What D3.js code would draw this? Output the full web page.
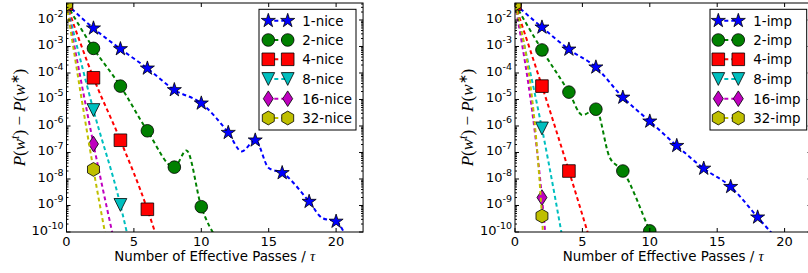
<!DOCTYPE html>
<html><head><meta charset="utf-8">
<script src="https://cdn.jsdelivr.net/npm/d3@7"></script>
<style>body{margin:0;background:#fff}svg{display:block}</style>
</head><body>
<svg id="c" width="808" height="273"></svg>
<script>
// ---------------- data ----------------
const xTicks = [0, 5, 10, 15, 20];
const yTickExps = [-10, -9, -8, -7, -6, -5, -4, -3, -2];
const seriesNames = ["1", "2", "4", "8", "16", "32"];
const seriesColors = ["#0000ff", "#008000", "#ff0000", "#00bfbf", "#bf00bf", "#bfbf00"];
const seriesMarkers = ["star", "circle", "square", "tri", "diamond", "hex"];

// nice (left panel): line points; markers are at even integer passes
const nice1X = [0, 2, 4, 6, 8, 10, 12, 13, 14, 15, 16, 18, 19, 20, 21];
const nice1Y = [0.04, 4.9e-3, 8.1e-4, 1.5e-4, 2.3e-5, 7.2e-6, 5.6e-7, 1.1e-7, 2.9e-7, 2.6e-8, 1.7e-8, 1.4e-9, 3.3e-10, 2.5e-10, 3e-11];
const nice2X = [0, 2, 4, 6, 8, 8.9, 10, 11.2];
const nice2Y = [0.04, 8.5e-4, 3.2e-5, 6.6e-7, 2.8e-8, 1.2e-7, 9e-10, 5e-11];
const nice4X = [0, 2, 4, 6, 7];
const nice4Y = [0.04, 6.6e-5, 2.9e-7, 7.2e-10, 2e-11];
const nice8X = [0, 2, 4, 5];
const nice8Y = [0.04, 4e-6, 1.05e-9, 6e-12];
const nice16X = [0, 2, 4];
const nice16Y = [0.04, 2.1e-7, 3.8e-12];
const nice32X = [0, 2, 3];
const nice32Y = [0.04, 2.3e-8, 3.8e-11];

// imp (right panel)
const imp1X = [0, 2, 4, 6, 8, 10, 12, 14, 16, 18, 19.5];
const imp1Y = [0.04, 5.3e-3, 7.8e-4, 1.65e-4, 1.2e-5, 1.5e-6, 1.8e-7, 2.5e-8, 5.1e-9, 3.6e-10, 5e-11];
const imp2X = [0, 2, 4, 5, 6, 7, 8, 10, 10.3];
const imp2Y = [0.04, 7.4e-4, 1.9e-5, 2.6e-6, 4.3e-6, 7e-8, 2e-8, 1.1e-10, 5e-11];
const imp4X = [0, 2, 4, 6];
const imp4Y = [0.04, 3.2e-5, 2e-8, 9e-12];
const imp8X = [0, 2, 4];
const imp8Y = [0.04, 8.1e-7, 2.5e-12];
const imp16X = [0, 2, 2.5];
const imp16Y = [0.04, 2e-9, 2.9e-12];
const imp32X = [0, 2, 2.2];
const imp32Y = [0.04, 4e-10, 4e-12];

const panels = [
  {suffix: "nice", left: 66.5, xs: [nice1X, nice2X, nice4X, nice8X, nice16X, nice32X], ys: [nice1Y, nice2Y, nice4Y, nice8Y, nice16Y, nice32Y], legend: {x: 259, x2: 356, mx1: 268.3, mx2: 287.7, tx: 302.3}},
  {suffix: "imp", left: 515, xs: [imp1X, imp2X, imp4X, imp8X, imp16X, imp32X], ys: [imp1Y, imp2Y, imp4Y, imp8Y, imp16Y, imp32Y], legend: {x: 710, x2: 806.7, mx1: 718.3, mx2: 738.3, tx: 753.3}}
];

// ---------------- drawing ----------------
const svg = d3.select("#c");
const TOP = 3, BOT = 232, XMAX = 22, PXU = 13.48;
const FONT = "DejaVu Sans, sans-serif";

function markerPath(type) {
  const p = d3.path();
  if (type === "star") {
    const R = 7.4, r = R * 0.381966;
    for (let i = 0; i < 10; i++) {
      const a = -Math.PI / 2 + i * Math.PI / 5, rr = i % 2 ? r : R;
      i ? p.lineTo(rr * Math.cos(a), rr * Math.sin(a)) : p.moveTo(rr * Math.cos(a), rr * Math.sin(a));
    }
  } else if (type === "circle") {
    p.arc(0, 0, 6.3, 0, 2 * Math.PI);
  } else if (type === "square") {
    p.rect(-6.3, -6.3, 12.6, 12.6);
  } else if (type === "tri") {
    p.moveTo(0, 6.4); p.lineTo(-6.4, -6.4); p.lineTo(6.4, -6.4);
  } else if (type === "diamond") {
    p.moveTo(0, -7.8); p.lineTo(5, 0); p.lineTo(0, 7.8); p.lineTo(-5, 0);
  } else if (type === "hex") {
    for (let i = 0; i < 6; i++) {
      const a = -Math.PI / 2 + i * Math.PI / 3, rr = 6.9;
      i ? p.lineTo(rr * Math.cos(a), rr * Math.sin(a)) : p.moveTo(rr * Math.cos(a), rr * Math.sin(a));
    }
  }
  p.closePath();
  return p.toString();
}

panels.forEach((pn, pi) => {
  const right = pn.left + XMAX * PXU;
  const x = d3.scaleLinear().domain([0, XMAX]).range([pn.left, right]);
  const y = d3.scaleLog().domain([1e-10, 0.0438]).range([BOT, TOP]);
  const g = svg.append("g");
  const clipId = "clip" + pi;
  svg.append("clipPath").attr("id", clipId).append("rect")
    .attr("x", pn.left).attr("y", TOP).attr("width", right - pn.left).attr("height", BOT - TOP);

  const plot = g.append("g").attr("clip-path", `url(#${clipId})`);
  const line = d3.line().x(d => x(d[0])).y(d => y(d[1])).curve(d3.curveMonotoneX);

  seriesNames.forEach((nm, si) => {
    const pts = pn.xs[si].map((v, i) => [v, pn.ys[si][i]]);
    plot.append("path").attr("d", line(pts)).attr("fill", "none")
      .attr("stroke", seriesColors[si]).attr("stroke-width", 2).attr("stroke-dasharray", "4,3");
    const mk = pts.filter(d => Number.isInteger(d[0]) && d[0] % 2 === 0 && d[0] <= 20 && d[1] >= 5e-11);
    plot.selectAll(null).data(mk).enter().append("path")
      .attr("d", markerPath(seriesMarkers[si]))
      .attr("transform", d => `translate(${x(d[0])},${y(d[1])})`)
      .attr("fill", seriesColors[si]).attr("stroke", "#000").attr("stroke-width", 0.8);
  });

  // spines
  g.append("rect").attr("x", pn.left).attr("y", TOP).attr("width", right - pn.left).attr("height", BOT - TOP)
    .attr("fill", "none").attr("stroke", "#000").attr("stroke-width", 1);

  // x ticks
  xTicks.forEach(t => {
    const px = x(t);
    g.append("line").attr("x1", px).attr("x2", px).attr("y1", BOT).attr("y2", BOT - 4).attr("stroke", "#000");
    g.append("line").attr("x1", px).attr("x2", px).attr("y1", TOP).attr("y2", TOP + 4).attr("stroke", "#000");
    g.append("text").attr("x", px).attr("y", 245.5).attr("text-anchor", "middle")
      .attr("font-family", FONT).attr("font-size", 13).text(t);
  });

  // y ticks
  const minors = [];
  for (let e = -10; e <= -2; e++) for (let m = 2; m <= 9; m++) { const v = m * Math.pow(10, e); if (v <= 0.0438) minors.push(v); }
  minors.forEach(v => {
    const py = y(v);
    g.append("line").attr("x1", pn.left).attr("x2", pn.left + 2).attr("y1", py).attr("y2", py).attr("stroke", "#000");
    g.append("line").attr("x1", right).attr("x2", right - 2).attr("y1", py).attr("y2", py).attr("stroke", "#000");
  });
  yTickExps.forEach(e => {
    const py = y(Math.pow(10, e));
    g.append("line").attr("x1", pn.left).attr("x2", pn.left + 4).attr("y1", py).attr("y2", py).attr("stroke", "#000");
    g.append("line").attr("x1", right).attr("x2", right - 4).attr("y1", py).attr("y2", py).attr("stroke", "#000");
    const t = g.append("text").attr("x", pn.left - 3).attr("y", py + 3).attr("text-anchor", "end")
      .attr("font-family", FONT).attr("font-size", 13);
    t.append("tspan").text("10");
    t.append("tspan").attr("dy", -6).attr("font-size", 9.5).text("-" + Math.abs(e));
  });

  // axis labels
  const xl = g.append("text").attr("x", (pn.left + right) / 2).attr("y", 260.5).attr("text-anchor", "middle")
    .attr("font-family", FONT).attr("font-size", 13.4);
  xl.append("tspan").text("Number of Effective Passes / ");
  xl.append("tspan").attr("font-family", "Liberation Serif, serif").attr("font-style", "italic").attr("font-size", 14.5).text("τ");

  const yl = g.append("text").attr("transform", `translate(${pn.left - 42},${(TOP + BOT) / 2}) rotate(-90)`)
    .attr("text-anchor", "middle").attr("font-family", "Liberation Serif, serif").attr("font-size", 17);
  yl.append("tspan").attr("font-style", "italic").text("P");
  yl.append("tspan").text("(");
  yl.append("tspan").attr("font-style", "italic").text("w");
  yl.append("tspan").attr("font-style", "italic").attr("font-size", 12).attr("dy", -6).text("t");
  yl.append("tspan").attr("dy", 6).text(") − ");
  yl.append("tspan").attr("font-style", "italic").text("P");
  yl.append("tspan").text("(");
  yl.append("tspan").attr("font-style", "italic").text("w");
  yl.append("tspan").attr("font-size", 12).attr("dy", -6).text("∗");
  yl.append("tspan").attr("dy", 6).text(")");

  // legend
  const L = pn.legend;
  const lg = g.append("g");
  lg.append("rect").attr("x", L.x).attr("y", 9.3).attr("width", L.x2 - L.x).attr("height", 120.7)
    .attr("fill", "#fff").attr("stroke", "#000").attr("stroke-width", 1);
  const rowY = [20.7, 40, 59.3, 79, 98.7, 118];
  seriesNames.forEach((nm, si) => {
    const ry = rowY[si];
    lg.append("line").attr("x1", L.mx1).attr("x2", L.mx2).attr("y1", ry).attr("y2", ry)
      .attr("stroke", seriesColors[si]).attr("stroke-width", 2).attr("stroke-dasharray", "4,3").attr("stroke-dashoffset", -6);
    [L.mx1, L.mx2].forEach(mx => {
      lg.append("path").attr("d", markerPath(seriesMarkers[si])).attr("transform", `translate(${mx},${ry})`)
        .attr("fill", seriesColors[si]).attr("stroke", "#000").attr("stroke-width", 0.8);
    });
    lg.append("text").attr("x", L.tx).attr("y", ry + 4.8).attr("font-family", FONT).attr("font-size", 13.4)
      .text(nm + "-" + pn.suffix);
  });
});
</script>
</body></html>
